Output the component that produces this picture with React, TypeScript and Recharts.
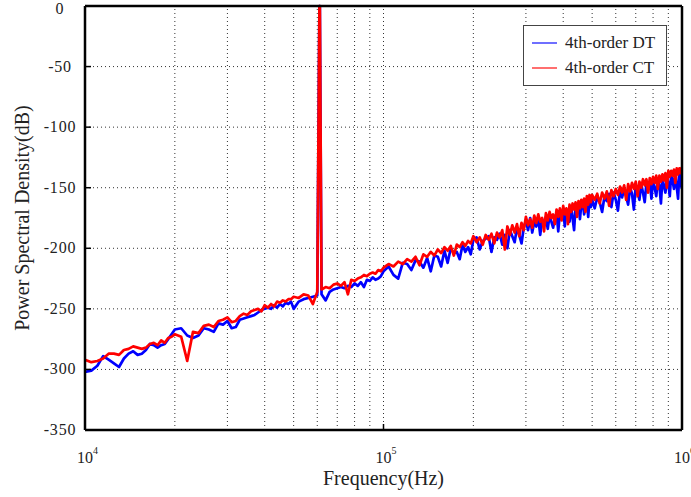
import {
  LineChart,
  Line,
  XAxis,
  YAxis,
  CartesianGrid,
  ReferenceLine,
  Legend,
  Label,
} from 'recharts'

// frequency bins in kHz
const freqKHz = [
  10, 10.5, 11, 11.5, 12, 12.5, 13, 13.5, 14, 14.5, 15, 15.5, 16, 16.5, 17, 17.5, 18, 18.5, 19, 19.5,
  20, 21, 22, 23, 24, 25, 26, 27, 28, 29, 30, 31, 32, 33, 34, 35, 36, 37, 38, 39, 40, 41, 42, 43, 44, 45, 46, 47, 48, 49,
  50, 52, 54, 56, 58, 60, 61, 61.2, 62, 64, 66, 68, 70, 72, 74, 76, 78, 80, 82, 84, 86, 88, 90, 92, 94, 96, 98,
  100, 104, 108, 112, 116, 120, 124, 128, 132, 136, 140, 144, 148, 152, 156, 160, 164, 168, 172, 176, 180, 184, 188, 192, 196,
  200, 205, 210, 215, 220, 225, 230, 235, 240, 245, 250, 255, 260, 265, 270, 275, 280, 285, 290, 295,
  300, 305, 310, 315, 320, 325, 330, 335, 340, 345, 350, 355, 360, 365, 370, 375, 380, 385, 390, 395,
  400, 405, 410, 415, 420, 425, 430, 435, 440, 445, 450, 455, 460, 465, 470, 475, 480, 485, 490, 495,
  500, 510, 520, 530, 540, 550, 560, 570, 580, 590, 600, 610, 620, 630, 640, 650, 660, 670, 680, 690,
  700, 710, 720, 730, 740, 750, 760, 770, 780, 790, 800, 810, 820, 830, 840, 850, 860, 870, 880, 890,
  900, 910, 920, 930, 940, 950, 960, 970, 980, 990, 1000,
]

// 4th-order DT modulator PSD (dB)
const dtPsd = [
  -302, -301, -297, -289, -292, -295, -298, -291, -287, -285, -288, -287, -284, -279, -280, -282, -280, -279, -275, -271,
  -267, -266, -272, -274, -272, -266, -267, -269, -262, -263, -260, -266, -265, -259, -258, -257, -256, -255, -253, -251, -250, -249, -250, -247, -249, -246, -248, -245, -246, -244,
  -250, -244, -242, -241, -240, -239, 0, 0, -238, -243, -236, -234, -233, -232, -233, -231, -232, -229, -231, -228, -232, -226, -227, -224, -226, -225, -223,
  -219, -215, -222, -225, -212, -213, -218, -210, -211, -216, -208, -219, -206, -207, -215, -202, -212, -200, -204, -203, -209, -197, -203, -199, -205,
  -193, -191, -201, -194, -192, -190, -203, -191, -193, -188, -197, -189, -200, -185, -190, -195, -183, -189, -196, -183,
  -177, -185, -175, -187, -178, -182, -175, -189, -176, -181, -174, -184, -173, -178, -183, -175, -171, -186, -170, -176,
  -169, -182, -168, -173, -178, -166, -175, -185, -165, -170, -163, -176, -164, -161, -172, -165, -160, -174, -159, -166,
  -160, -167, -158, -162, -170, -157, -161, -155, -166, -154, -160, -169, -152, -158, -151, -157, -164, -150, -155, -168,
  -148, -153, -160, -147, -154, -162, -146, -151, -145, -159, -144, -150, -157, -143, -148, -163, -142, -149, -154, -141,
  -146, -157, -139, -144, -151, -138, -149, -159, -137, -147, -151,
]

// 4th-order CT modulator PSD (dB)
const ctPsd = [
  -292, -294, -293, -291, -287, -287, -288, -284, -283, -281, -282, -283, -282, -279, -278, -280, -276, -278, -274, -273,
  -271, -273, -293, -269, -270, -264, -263, -265, -260, -259, -257, -261, -260, -256, -254, -255, -252, -251, -250, -252, -247, -249, -246, -248, -244, -245, -243, -244, -242, -242,
  -240, -241, -238, -239, -246, -236, 0, 0, -234, -232, -233, -230, -229, -231, -228, -238, -226, -227, -225, -224, -222, -223, -221, -220, -221, -218, -219,
  -216, -213, -215, -211, -213, -209, -211, -207, -214, -205, -207, -203, -206, -201, -204, -199, -202, -198, -206, -197, -199, -195, -198, -194, -196,
  -190, -195, -191, -197, -189, -193, -188, -196, -187, -191, -185, -201, -182, -189, -181, -187, -180, -190, -179, -185,
  -174, -181, -176, -183, -173, -179, -172, -178, -175, -186, -171, -177, -170, -175, -172, -180, -168, -174, -167, -177,
  -165, -172, -167, -180, -164, -170, -163, -168, -162, -174, -161, -167, -160, -166, -159, -170, -157, -164, -156, -162,
  -156, -160, -155, -163, -154, -159, -153, -165, -152, -157, -151, -156, -149, -154, -148, -160, -147, -153, -146, -151,
  -145, -157, -145, -150, -143, -148, -143, -154, -142, -147, -141, -146, -140, -151, -140, -145, -139, -144, -138, -150,
  -136, -141, -136, -140, -135, -146, -134, -139, -134, -138, -133,
]

const seriesNames = ['4th-order DT', '4th-order CT']
const yTicks = [-350, -300, -250, -200, -150, -100, -50, 0]
const decadeTicks = [10000, 100000, 1000000]
const minorGrid = [
  20000, 30000, 40000, 50000, 60000, 70000, 80000, 90000, 100000,
  200000, 300000, 400000, 500000, 600000, 700000, 800000, 900000,
]

const rows = freqKHz.map((k, i) => ({ f: k * 1000, dt: dtPsd[i], ct: ctPsd[i] }))

const serif = '"Liberation Serif", "Times New Roman", serif'
const frame = { stroke: '#000', strokeWidth: 2.5 }

function LeftTick({ x, y, payload }: any) {
  return (
    <g>
      <line x1={x} x2={x + 6} y1={y} y2={y} stroke="#000" strokeWidth={1.5} />
      <text
        x={x - 25}
        y={y}
        dy={payload.value === 0 ? 8 : 5}
        textAnchor="middle"
        fontFamily={serif}
        fontSize={16}
        fill="#222"
        letterSpacing={0.8}
      >
        {payload.value}
      </text>
    </g>
  )
}

function RightTick({ x, y }: any) {
  return <line x1={x} x2={x - 6} y1={y} y2={y} stroke="#000" strokeWidth={1.5} />
}

function BottomTick({ x, y, payload }: any) {
  const exp = Math.round(Math.log10(payload.value))
  return (
    <g>
      <line x1={x} x2={x} y1={y} y2={y - 6} stroke="#000" strokeWidth={1.5} />
      <text x={x - 8} y={y + 33} fontFamily={serif} fontSize={16} fill="#222">
        10
        <tspan dy={-9} fontSize={10}>{exp}</tspan>
      </text>
    </g>
  )
}

function TopTick({ x, y }: any) {
  return <line x1={x} x2={x} y1={y} y2={y + 6} stroke="#000" strokeWidth={1.5} />
}

function LegendBox({ payload }: any) {
  const items = [...(payload || [])].sort(
    (a: any, b: any) => seriesNames.indexOf(a.value) - seriesNames.indexOf(b.value)
  )
  return (
    <div
      style={{
        width: 142,
        height: 55,
        paddingTop: 4,
        border: '1px solid #444',
        background: '#fff',
        fontFamily: serif,
        fontSize: 17,
        color: '#222',
      }}
    >
      {items.map((e: any) => (
        <div key={e.value} style={{ display: 'flex', alignItems: 'center', height: 25, paddingLeft: 8 }}>
          <svg width={33} height={4} style={{ display: 'block' }}>
            <line x1={0} x2={25} y1={2} y2={2} stroke={e.color} strokeWidth={1.5} opacity={0.75} />
          </svg>
          <span style={{ lineHeight: '25px' }}>{e.value}</span>
        </div>
      ))}
    </div>
  )
}

export default function App() {
  return (
    <div style={{ position: 'absolute', left: 0, top: 0, width: 691, height: 497, background: '#fff' }}>
      <LineChart width={691} height={497} data={rows} margin={{ top: 0, right: 0, bottom: 0, left: 0 }}>
        <CartesianGrid vertical={false} stroke="#333" strokeDasharray="1 3" />
        {minorGrid.map((g) => (
          <ReferenceLine key={g} x={g} stroke="#333" strokeDasharray="1 3" />
        ))}
        <XAxis
          dataKey="f"
          type="number"
          scale="log"
          domain={[10000, 1000000]}
          allowDataOverflow
          ticks={decadeTicks}
          height={67}
          tickSize={0}
          tickMargin={0}
          tickLine={false}
          axisLine={frame}
          tick={<BottomTick />}
          interval={0}
        >
          <Label
            content={({ viewBox }: any) => (
              <text
                x={viewBox.x + viewBox.width / 2}
                y={viewBox.y + 55}
                textAnchor="middle"
                fontFamily={serif}
                fontSize={20}
                fill="#222"
              >
                Frequency(Hz)
              </text>
            )}
          />
        </XAxis>
        <XAxis
          xAxisId="top"
          orientation="top"
          type="number"
          scale="log"
          domain={[10000, 1000000]}
          allowDataOverflow
          ticks={decadeTicks}
          height={6}
          tickSize={0}
          tickMargin={0}
          tickLine={false}
          axisLine={frame}
          tick={<TopTick />}
          interval={0}
        />
        <YAxis
          type="number"
          domain={[-350, 0]}
          ticks={yTicks}
          width={85}
          tickSize={0}
          tickMargin={0}
          tickLine={false}
          axisLine={frame}
          tick={<LeftTick />}
          interval={0}
        >
          <Label
            content={({ viewBox }: any) => (
              <text
                transform={`translate(29,${viewBox.y + viewBox.height / 2}) rotate(-90)`}
                textAnchor="middle"
                fontFamily={serif}
                fontSize={20}
                fill="#222"
              >
                Power Spectral Density(dB)
              </text>
            )}
          />
        </YAxis>
        <YAxis
          yAxisId="right"
          orientation="right"
          type="number"
          domain={[-350, 0]}
          ticks={yTicks}
          width={9}
          tickSize={0}
          tickMargin={0}
          tickLine={false}
          axisLine={frame}
          tick={<RightTick />}
          interval={0}
        />
        <Legend
          content={<LegendBox />}
          layout="horizontal"
          align="center"
          verticalAlign="middle"
          wrapperStyle={{ left: 523, top: 25, width: 144, height: 61 }}
        />
        <Line
          dataKey="dt"
          name="4th-order DT"
          stroke="#0000ff"
          strokeWidth={2.7}
          strokeLinejoin="round"
          dot={false}
          isAnimationActive={false}
        />
        <Line
          dataKey="ct"
          name="4th-order CT"
          stroke="#ff0000"
          strokeWidth={2.7}
          strokeLinejoin="round"
          dot={false}
          isAnimationActive={false}
        />
      </LineChart>
    </div>
  )
}
